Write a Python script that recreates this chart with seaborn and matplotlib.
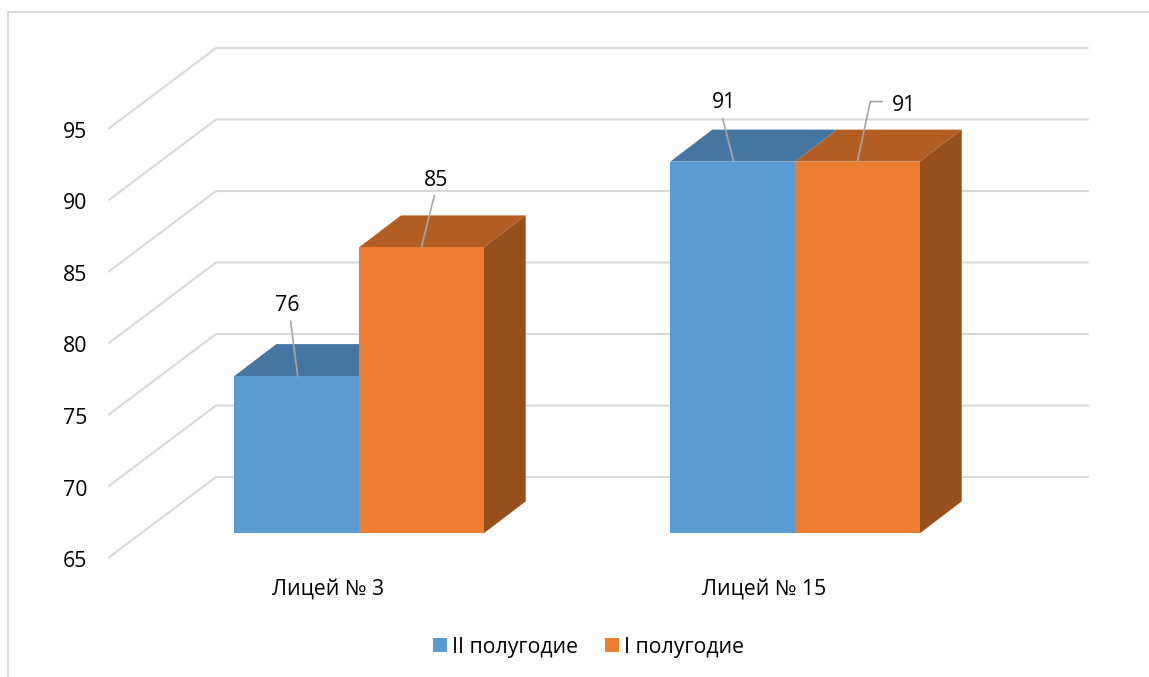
import matplotlib
matplotlib.use('Agg')
import matplotlib.pyplot as plt
from matplotlib.lines import Line2D
from matplotlib.patches import Polygon, Rectangle
from matplotlib.transforms import Affine2D
import pandas as pd
import seaborn as sns

schools = ['Лицей № 3', 'Лицей № 15']
terms = ['II полугодие', 'I полугодие']
term2_values = [76, 91]
term1_values = [85, 91]
y_ticks = [65, 70, 75, 80, 85, 90, 95]

front_colors = ['#5B9BD5', '#ED7D31']
top_colors = ['#4575A1', '#B25E22']
side_colors = ['#4575A1', '#97501D']
grid_color = '#D9D9D9'
font_size = 15.3

W, H = 1149, 677

df = pd.DataFrame({
    'school': schools * 2,
    'term': [terms[0]] * 2 + [terms[1]] * 2,
    'value': term2_values + term1_values,
})

sns.set_theme(style='white')
plt.rcParams['font.family'] = ['Open Sans', 'DejaVu Sans']

fig = plt.figure(figsize=(W / 100, H / 100), dpi=100)
# plane of the bar fronts, in pixels of the picture
ax = fig.add_axes([141 / W, 1 - 533.4 / H, 872 / W, 429 / H])

sns.barplot(data=df, x='school', y='value', hue='term', hue_order=terms,
            palette=front_colors, width=0.572, gap=0, legend=False,
            saturation=1, linewidth=0, edgecolor='none', ax=ax, zorder=3)
ax.set_ylim(65, 95)
ax.set_xlim(-0.5, 1.5)
ax.set_xlabel('')
ax.set_ylabel('')
ax.set_yticks(y_ticks)
sns.despine(ax=ax, left=True, bottom=True, right=True, top=True)
ax.patch.set_alpha(0)

# pixel shifts that fake the depth of the 3D box
bar_dx, bar_dy = 42, 32

# walls: gridline from the front left edge to the back, then along the back
for tick in y_ticks:
    x0, y0 = ax.transData.transform((-0.5, tick))
    x1, y1 = ax.transData.transform((1.5, tick))
    fig.add_artist(Line2D([x0 - 32, x0 + 75, x1 + 75], [y0 - 24, y0 + 56.4, y1 + 56.4],
                          transform=None, color=grid_color, lw=1.5, zorder=0))

# top and side faces of the bars, built from the bars seaborn drew
bars = sorted([p for p in ax.patches if p.get_width() > 0], key=lambda b: b.get_x())
for bar in bars:
    color = bar.get_facecolor()
    idx = 0 if matplotlib.colors.to_hex(color).upper() == front_colors[0] else 1
    x0, y0 = ax.transData.transform((bar.get_x(), 65))
    x1, y1 = ax.transData.transform((bar.get_x() + bar.get_width(), bar.get_height()))
    top = [(x0, y1), (x1, y1), (x1 + bar_dx, y1 + bar_dy), (x0 + bar_dx, y1 + bar_dy)]
    ax.add_patch(Polygon(top, closed=True, transform=None, facecolor=top_colors[idx],
                         edgecolor='none', zorder=2 if idx == 0 else 2.5, clip_on=False))
    if idx == 1:
        side = [(x1, y0), (x1 + bar_dx, y0 + bar_dy), (x1 + bar_dx, y1 + bar_dy), (x1, y1)]
        ax.add_patch(Polygon(side, closed=True, transform=None, facecolor=side_colors[idx],
                             edgecolor='none', zorder=2.5, clip_on=False))

# value labels with their leader lines, offsets in pixels from the bar top
label_offsets = [(-9, 71), (14.5, 67), (-9, 59), (47, 56)]
leader_offsets = [
    [(1, 0), (-6, 55)],
    [(0, 0), (13, 52)],
    [(1, 0), (-10, 43)],
    [(0, 0), (13, 60), (25, 60)],
]
px = 72 / fig.dpi
for bar, (dx, dy), leader in zip(bars, label_offsets, leader_offsets):
    x = bar.get_x() + bar.get_width() / 2
    value = int(bar.get_height())
    ax.annotate(str(value), xy=(x, value), xytext=(dx * px, dy * px),
                textcoords='offset points', ha='center', va='center',
                fontsize=font_size, color='black', zorder=6, annotation_clip=False)
    xp, yp = ax.transData.transform((x, value))
    ax.add_line(Line2D([xp + a for a, b in leader], [yp + b for a, b in leader],
                       transform=None, color='#A6A6A6', lw=1.2, zorder=5, clip_on=False))

# tick labels sit on the front edge of the left wall
ax.tick_params(axis='y', length=0, pad=15, labelsize=font_size, labelcolor='black')
ax.tick_params(axis='x', length=0, pad=15.5, labelsize=font_size, labelcolor='black')
for label in ax.get_yticklabels():
    label.set_transform(label.get_transform() + Affine2D().translate(-33, -25.6))
for label in ax.get_xticklabels():
    label.set_transform(label.get_transform() + Affine2D().translate(-31, -23.6))

# legend
handles = [Rectangle((0, 0), 1, 1, facecolor=c, edgecolor='none') for c in front_colors]
fig.legend(handles, terms, loc='center', bbox_to_anchor=(588.5 / W, 1 - 647 / H),
           ncol=2, frameon=False, fontsize=font_size, handlelength=0.67, handleheight=0.67,
           handletextpad=0.24, columnspacing=1.28, labelcolor='black')

# chart frame, open on the right and at the bottom
fig.add_artist(Line2D([8, 8, W], [0, H - 12, H - 12], transform=None,
                      color=grid_color, lw=1.5))

fig.savefig('out.png', dpi=100)
